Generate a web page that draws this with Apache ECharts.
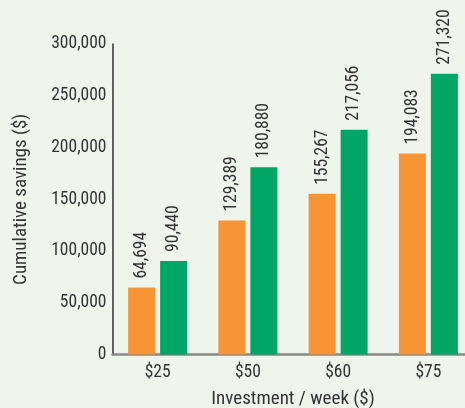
<!DOCTYPE html>
<html><head><meta charset="utf-8">
<script src="https://cdn.jsdelivr.net/npm/echarts@6/dist/echarts.min.js"></script>
<style>html,body{margin:0;padding:0;background:#eff4ec;}#c{width:465px;height:408px;}</style>
</head><body><div id="c"></div>
<script>
const categories = ['$25', '$50', '$60', '$75'];
const seriesA = [64694, 129389, 155267, 194083];
const seriesB = [90440, 180880, 217056, 271320];
const yTicks = [0, 50000, 100000, 150000, 200000, 250000, 300000];

const FONT = '"Roboto Condensed", Roboto, sans-serif';
const FS = 17.5;
const FN = 19;
const TXT = '#333';
const fmt = v => String(v).replace(/\B(?=(\d{3})+(?!\d))/g, ',');
const chart = echarts.init(document.getElementById('c'), null, {renderer: 'canvas'});
const lbl = {
  show: true, position: 'top', rotate: 90, align: 'left', verticalAlign: 'middle',
  distance: 9, color: TXT, fontSize: FS, fontFamily: FONT,
  formatter: p => fmt(p.value)
};
chart.setOption({
  backgroundColor: '#eff4ec',
  animation: false,
  grid: {left: 112.5, top: 44, width: 361, height: 310.5, containLabel: false, outerBoundsMode: 'none'},
  xAxis: {
    type: 'category', data: categories,
    name: 'Investment / week ($)', nameLocation: 'middle', nameGap: 35,
    nameTextStyle: {color: TXT, fontSize: FN, fontFamily: FONT},
    axisLine: {lineStyle: {color: '#888', width: 2.5}},
    axisTick: {show: false},
    axisLabel: {color: TXT, fontSize: FS, fontFamily: FONT, margin: 9}
  },
  yAxis: {
    type: 'value', min: yTicks[0], max: yTicks[yTicks.length - 1], interval: 50000,
    name: 'Cumulative savings ($)', nameLocation: 'middle', nameGap: 82,
    nameTextStyle: {color: TXT, fontSize: FN, fontFamily: FONT},
    axisLine: {show: true, lineStyle: {color: '#333', width: 1.5}},
    axisTick: {show: false},
    splitLine: {show: false},
    axisLabel: {color: TXT, fontSize: FS, fontFamily: FONT, margin: 6, formatter: v => fmt(v)}
  },
  series: [
    {type: 'bar', data: seriesA, barWidth: 27, barGap: '18.5%', itemStyle: {color: '#f79435'}, label: lbl},
    {type: 'bar', data: seriesB, barWidth: 27, itemStyle: {color: '#00a665'}, label: lbl}
  ]
});
</script></body></html>
